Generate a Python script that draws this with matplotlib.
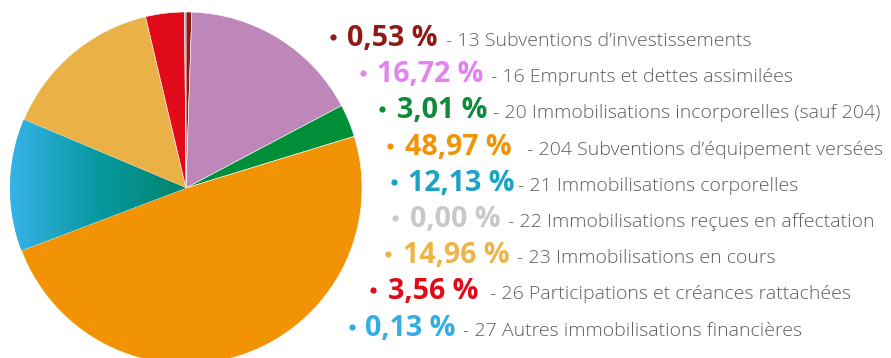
import numpy as np
import matplotlib.pyplot as plt
from matplotlib.colors import LinearSegmentedColormap

# Répartition des dépenses d'investissement par chapitre
shares = [0.53, 16.72, 3.01, 48.97, 12.13, 0.00, 14.96, 3.56, 0.13]
pct_labels = ["0,53 %", "16,72 %", "3,01 %", "48,97 %", "12,13 %",
              "0,00 %", "14,96 %", "3,56 %", "0,13 %"]
chapters = [
    "- 13 Subventions d\u2019investissements",
    "- 16 Emprunts et dettes assimilées",
    "- 20 Immobilisations incorporelles (sauf 204)",
    " - 204 Subventions d\u2019équipement versées",
    "- 21 Immobilisations corporelles",
    "- 22 Immobilisations reçues en affectation",
    "- 23 Immobilisations en cours",
    "- 26 Participations et créances rattachées",
    "- 27 Autres immobilisations financières",
]
slice_colors = ["#8e1b17", "#bd87b9", "#008f39", "#f29306", "#00846d",
                "#c8c8c8", "#eab146", "#e10a1a", "#33aee3"]
text_colors = ["#8e1b17", "#e383f0", "#0e8a3a", "#f29306", "#1aa3c4",
               "#c8c8c8", "#edb449", "#e20a17", "#33aee3"]

W, H = 891, 358
fig = plt.figure(figsize=(W / 100, H / 100), dpi=100)
ax = fig.add_axes([0, 0, 1, 1])

cx, cy, r = 186, H - 188, 176
wedges, _ = ax.pie(shares, colors=slice_colors, startangle=90, counterclock=False,
                   center=(cx, cy), radius=r,
                   wedgeprops=dict(edgecolor="white", linewidth=0.4))

# chapitre 21 : dégradé bleu -> vert
grad = LinearSegmentedColormap.from_list("c21", ["#37b3e9", "#0798a0", "#00846d"])
img = ax.imshow(np.linspace(0, 1, 256)[None, :], cmap=grad, aspect="auto",
                extent=(cx - r, cx, cy - r, cy + r), zorder=wedges[4].get_zorder() + 0.1)
img.set_clip_path(wedges[4])

ax.set_xlim(0, W)
ax.set_ylim(0, H)
ax.set_aspect("equal")
ax.axis("off")

# légende à droite
bullet_x = [333, 363, 382, 390, 394, 395, 388, 373, 352]
pct_x = [347, 377, 397, 405, 408, 410, 403, 388, 365]
desc_x = [446, 491, 493, 522, 518, 508, 517, 490, 463]
for i in range(len(shares)):
    base = H - (46 + 36.2 * i)
    ax.plot(bullet_x[i], base + 9, "o", ms=4.5, color=text_colors[i], mec="none")
    ax.text(pct_x[i], base, pct_labels[i], color=text_colors[i], fontsize=20.6,
            fontweight="bold", family="Open Sans", va="baseline", ha="left")
    ax.text(desc_x[i], base, chapters[i], color="#5e5e5e", fontsize=14.0,
            fontweight="light", family="Open Sans", va="baseline", ha="left")

fig.savefig("out.png", dpi=100)
